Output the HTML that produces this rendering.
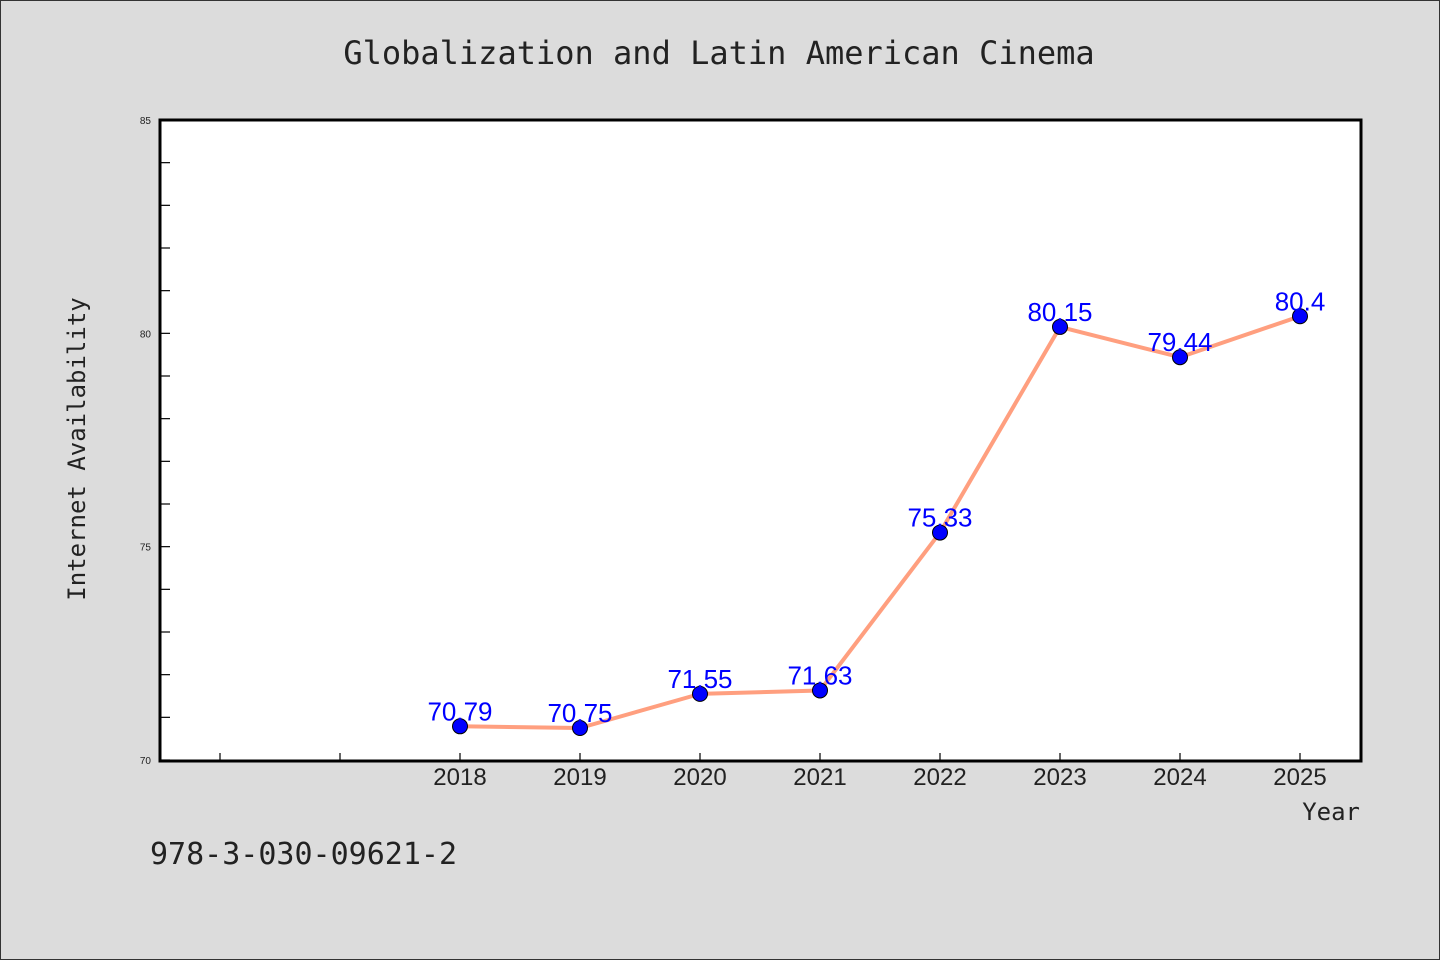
<!DOCTYPE html>
<html><head><meta charset="utf-8"><style>
body{margin:0;background:#dcdcdc;}
svg{display:block}
</style></head><body>
<svg width="1440" height="960" xmlns="http://www.w3.org/2000/svg">
<rect x="0.5" y="0.5" width="1439" height="959" fill="#dcdcdc" stroke="#333" stroke-width="1"/>
<text x="719" y="64" text-anchor="middle" font-family="DejaVu Sans Mono, Liberation Mono, monospace" font-size="32" fill="#222">Globalization and Latin American Cinema</text>
<rect x="160" y="120" width="1201" height="641" fill="#fff"/>
<g id="ticks"></g>
<g id="marks"></g>
<rect x="160" y="120" width="1201" height="641" fill="none" stroke="#000" stroke-width="3"/>
<text transform="translate(85,449) rotate(-90)" text-anchor="middle" font-family="DejaVu Sans Mono, Liberation Mono, monospace" font-size="24" fill="#222">Internet Availability</text>
<text x="1360" y="820" text-anchor="end" font-family="DejaVu Sans Mono, Liberation Mono, monospace" font-size="24" fill="#222">Year</text>
<text x="150" y="864" font-family="DejaVu Sans Mono, Liberation Mono, monospace" font-size="30" fill="#222">978-3-030-09621-2</text>
</svg>
<script>
const categories = ["", "", "2018","2019","2020","2021","2022","2023","2024","2025"];
const values = [null, null, 70.79, 70.75, 71.55, 71.63, 75.33, 80.15, 79.44, 80.4];
const labels = ["", "", "70.79","70.75","71.55","71.63","75.33","80.15","79.44","80.4"];
const yMajorTicks = [70, 75, 80, 85];
const yMin = 70, yMax = 85;
const NS = "http://www.w3.org/2000/svg";
const L = 160, R = 1360, T = 120, B = 760;
function x(i){ return L + (i + 0.5) * (R - L) / categories.length; }
function y(v){ return B - (v - yMin) / (yMax - yMin) * (B - T); }
function mk(tag, attrs, parent){ const e = document.createElementNS(NS, tag); for (const k in attrs) e.setAttribute(k, attrs[k]); parent.appendChild(e); return e; }
const tg = document.getElementById('ticks');
for (let v = yMin; v <= yMax; v++) {
  const t = mk('line', {x1: L, x2: L + 10, y1: y(v), y2: y(v), stroke: '#000', 'stroke-width': 1.2}, tg);
  
  
}
yMajorTicks.forEach(v => {
  const t = mk('text', {x: 151, y: y(v) + 4, 'text-anchor': 'end', 'font-family': 'Liberation Sans, sans-serif', 'font-size': 10, fill: '#222'}, tg);
  t.textContent = v;
  
  
});
categories.forEach((c, i) => {
  const t = mk('line', {x1: x(i), x2: x(i), y1: B, y2: B - 7, stroke: '#000', 'stroke-width': 1.2}, tg);
  
  
  if (c) {
    const lb = mk('text', {x: x(i), y: 785, 'text-anchor': 'middle', 'font-family': 'Liberation Sans, sans-serif', 'font-size': 24, fill: '#222'}, tg);
    lb.textContent = c;
    
    
  }
});
const mg = document.getElementById('marks');
let d = '';
values.forEach((v, i) => { if (v !== null) d += (d ? 'L' : 'M') + x(i) + ',' + y(v); });
const line = mk('path', {d: d, fill: 'none', stroke: '#ff9f7f', 'stroke-width': 4, 'stroke-linejoin': 'round'}, mg);


values.forEach((v, i) => {
  if (v === null) return;
  const c = mk('circle', {cx: x(i), cy: y(v), r: 7.5, fill: '#0000ff', stroke: '#000', 'stroke-width': 1}, mg);
  
  
});
values.forEach((v, i) => {
  if (v === null) return;
  const t = mk('text', {x: x(i), y: y(v) - 6, 'text-anchor': 'middle', 'font-family': 'Liberation Sans, sans-serif', 'font-size': 26, fill: '#0000ff'}, mg);
  t.textContent = labels[i];
  
  
});
</script>
</body></html>
